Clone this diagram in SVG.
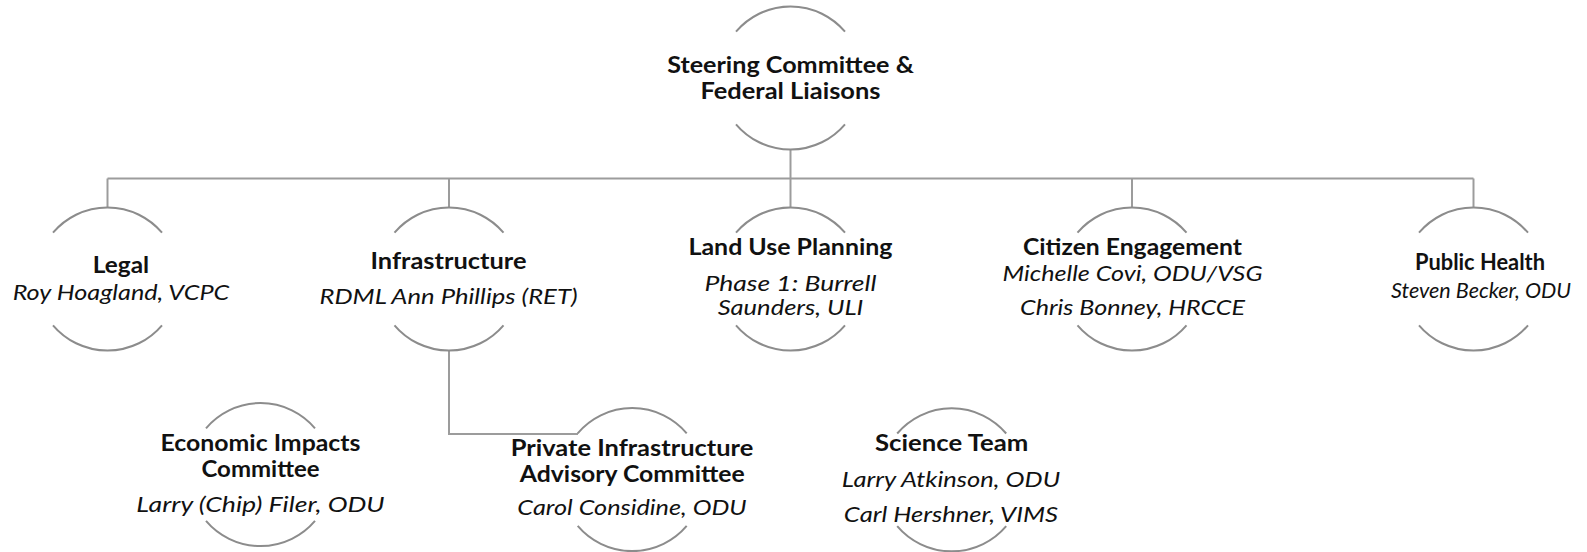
<svg xmlns="http://www.w3.org/2000/svg" xmlns:xlink="http://www.w3.org/1999/xlink" width="1587" height="552" viewBox="0 0 1587 552">
<style>
.arc{fill:none;stroke:#8c8c8c;stroke-width:2}
.conn{fill:none;stroke:#9c9c9c;stroke-width:2}
text{font-family:Lato,"Open Sans","DejaVu Sans",sans-serif;font-size:22px;text-anchor:middle;fill:#111}
.b{font-weight:bold}
.i{font-style:italic}
</style>
<defs>
<path id="node" d="M-54.5,-46.3 A71.5,71.5 0 0 1 54.5,-46.3 M54.5,46.3 A71.5,71.5 0 0 1 -54.5,46.3"/>
</defs>
<rect width="1587" height="552" fill="#fff"/>
<g id="connectors">
<path class="conn" d="M790.5,149.5 V178.5"/>
<path class="conn" d="M107.5,178.5 H1473.5"/>
<path class="conn" d="M107.5,178.5 V207.5"/>
<path class="conn" d="M449,178.5 V207.5"/>
<path class="conn" d="M790.5,178.5 V207.5"/>
<path class="conn" d="M1132,178.5 V207.5"/>
<path class="conn" d="M1473.5,178.5 V207.5"/>
<path class="conn" d="M449,350.5 V434 H578"/>
</g>
<g id="steering">
<use xlink:href="#node" href="#node" class="arc" x="790.5" y="78"/>
<text class="b" x="790.5" y="73.3" textLength="246.7" lengthAdjust="spacingAndGlyphs">Steering Committee &amp;</text>
<text class="b" x="790.5" y="99" textLength="180" lengthAdjust="spacingAndGlyphs">Federal Liaisons</text>
</g>
<g id="legal">
<use xlink:href="#node" href="#node" class="arc" x="107.5" y="279"/>
<text class="b" x="121" y="273" textLength="56.3" lengthAdjust="spacingAndGlyphs">Legal</text>
<text class="i" x="121" y="300" textLength="216.7" lengthAdjust="spacingAndGlyphs">Roy Hoagland, VCPC</text>
</g>
<g id="infrastructure">
<use xlink:href="#node" href="#node" class="arc" x="449" y="279"/>
<text class="b" x="448.5" y="269" textLength="156" lengthAdjust="spacingAndGlyphs">Infrastructure</text>
<text class="i" x="448.5" y="304" textLength="258" lengthAdjust="spacingAndGlyphs">RDML Ann Phillips (RET)</text>
</g>
<g id="landuse">
<use xlink:href="#node" href="#node" class="arc" x="790.5" y="279"/>
<text class="b" x="790.5" y="255" textLength="204" lengthAdjust="spacingAndGlyphs">Land Use Planning</text>
<text class="i" x="790.5" y="290.5" textLength="172" lengthAdjust="spacingAndGlyphs">Phase 1: Burrell</text>
<text class="i" x="790.5" y="315" textLength="145.7" lengthAdjust="spacingAndGlyphs">Saunders, ULI</text>
</g>
<g id="citizen">
<use xlink:href="#node" href="#node" class="arc" x="1132" y="279"/>
<text class="b" x="1132.5" y="254.5" textLength="219" lengthAdjust="spacingAndGlyphs">Citizen Engagement</text>
<text class="i" x="1132.5" y="281" textLength="260" lengthAdjust="spacingAndGlyphs">Michelle Covi, ODU/VSG</text>
<text class="i" x="1132.5" y="315" textLength="225" lengthAdjust="spacingAndGlyphs">Chris Bonney, HRCCE</text>
</g>
<g id="publichealth">
<use xlink:href="#node" href="#node" class="arc" x="1473.5" y="279"/>
<text class="b" x="1480" y="270" textLength="130" lengthAdjust="spacingAndGlyphs">Public Health</text>
<text class="i" x="1481" y="298.3" textLength="180" lengthAdjust="spacingAndGlyphs">Steven Becker, ODU</text>
</g>
<g id="economic">
<use xlink:href="#node" href="#node" class="arc" x="260.5" y="474.6"/>
<text class="b" x="260.5" y="451" textLength="200" lengthAdjust="spacingAndGlyphs">Economic Impacts</text>
<text class="b" x="260.5" y="476.7" textLength="118" lengthAdjust="spacingAndGlyphs">Committee</text>
<text class="i" x="260.5" y="511.5" textLength="248.3" lengthAdjust="spacingAndGlyphs">Larry (Chip) Filer, ODU</text>
</g>
<g id="privateinfra">
<use xlink:href="#node" href="#node" class="arc" x="632.2" y="479.6"/>
<text class="b" x="632" y="456" textLength="242.7" lengthAdjust="spacingAndGlyphs">Private Infrastructure</text>
<text class="b" x="632.3" y="481.7" textLength="225" lengthAdjust="spacingAndGlyphs">Advisory Committee</text>
<text class="i" x="632" y="515" textLength="229.3" lengthAdjust="spacingAndGlyphs">Carol Considine, ODU</text>
</g>
<g id="science">
<use xlink:href="#node" href="#node" class="arc" x="951.7" y="479.8"/>
<text class="b" x="951.7" y="451" textLength="153.3" lengthAdjust="spacingAndGlyphs">Science Team</text>
<text class="i" x="951" y="486.7" textLength="218.3" lengthAdjust="spacingAndGlyphs">Larry Atkinson, ODU</text>
<text class="i" x="951" y="521.7" textLength="214.3" lengthAdjust="spacingAndGlyphs">Carl Hershner, VIMS</text>
</g>
</svg>
